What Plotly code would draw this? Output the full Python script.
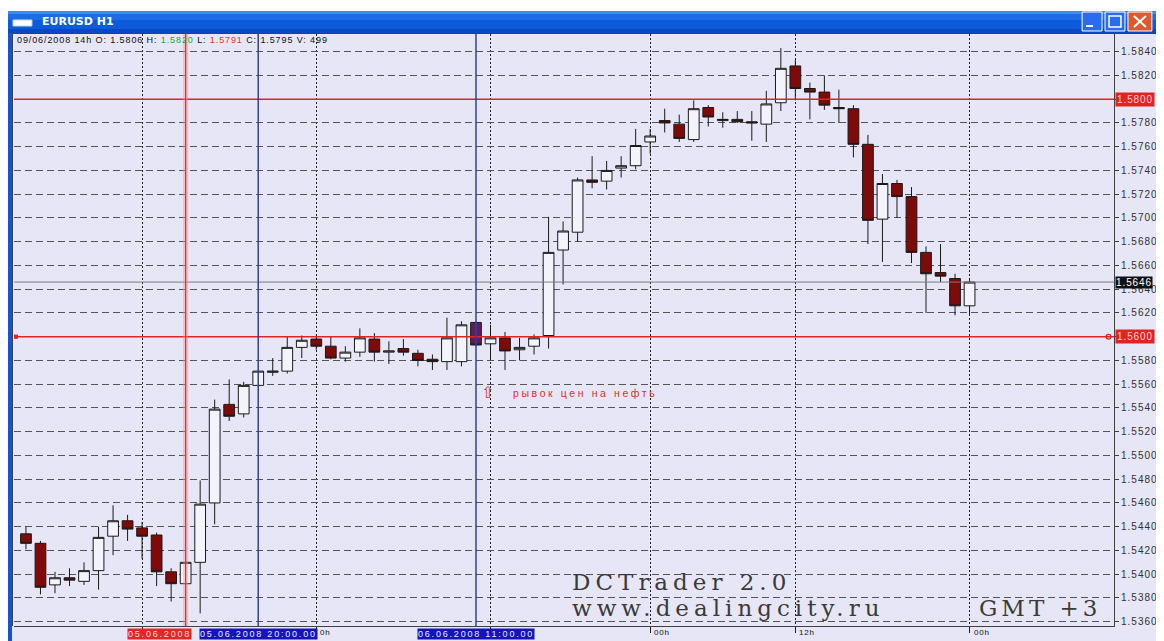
import plotly.graph_objects as go

# ---------------- data ----------------
opens = [1.5434, 1.5426, 1.5391, 1.5397, 1.5394, 1.5403, 1.5432, 1.5445, 1.5439, 1.5433,
         1.5402, 1.5392, 1.5410, 1.5460, 1.5543, 1.5535, 1.5559, 1.5570, 1.5571, 1.5591,
         1.5598, 1.5592, 1.5582, 1.5587, 1.5598, 1.5587, 1.5590, 1.5586, 1.5581, 1.5579,
         1.5579, 1.5612, 1.5594, 1.5599, 1.5589, 1.5592, 1.5601, 1.5673, 1.5688, 1.5732,
         1.5731, 1.5742, 1.5744, 1.5764, 1.5782, 1.5779, 1.5766, 1.5793, 1.5782, 1.5783,
         1.5781, 1.5779, 1.5797, 1.5828, 1.5809, 1.5806, 1.5793, 1.5792, 1.5762, 1.5699,
         1.5729, 1.5718, 1.5671, 1.5654, 1.5649, 1.5626]
highs = [1.5440, 1.5428, 1.5402, 1.5405, 1.5410, 1.5440, 1.5458, 1.5450, 1.5444, 1.5435,
         1.5405, 1.5411, 1.5479, 1.5547, 1.5564, 1.5562, 1.5572, 1.5582, 1.5600, 1.5601,
         1.5601, 1.5600, 1.5592, 1.5607, 1.5603, 1.5596, 1.5598, 1.5589, 1.5585, 1.5616,
         1.5613, 1.5613, 1.5610, 1.5604, 1.5599, 1.5602, 1.5701, 1.5697, 1.5734, 1.5752,
         1.5748, 1.5752, 1.5775, 1.5775, 1.5792, 1.5787, 1.5799, 1.5795, 1.5789, 1.5790,
         1.5790, 1.5807, 1.5843, 1.5833, 1.5814, 1.5820, 1.5808, 1.5795, 1.5770, 1.5737,
         1.5732, 1.5726, 1.5676, 1.5678, 1.5653, 1.5648]
lows = [1.5421, 1.5383, 1.5384, 1.5390, 1.5391, 1.5387, 1.5416, 1.5428, 1.5413, 1.5390,
        1.5377, 1.5391, 1.5367, 1.5442, 1.5529, 1.5532, 1.5558, 1.5567, 1.5569, 1.5582,
        1.5589, 1.5581, 1.5579, 1.5583, 1.5579, 1.5577, 1.5584, 1.5575, 1.5572, 1.5572,
        1.5575, 1.5592, 1.5582, 1.5572, 1.5580, 1.5585, 1.5590, 1.5644, 1.5680, 1.5725,
        1.5724, 1.5734, 1.5741, 1.5754, 1.5772, 1.5764, 1.5764, 1.5777, 1.5776, 1.5780,
        1.5765, 1.5764, 1.5790, 1.5799, 1.5783, 1.5791, 1.5780, 1.5751, 1.5678, 1.5663,
        1.5700, 1.5662, 1.5620, 1.5646, 1.5618, 1.5619]
closes = [1.5426, 1.5389, 1.5397, 1.5395, 1.5403, 1.5431, 1.5445, 1.5438, 1.5432, 1.5402,
          1.5392, 1.5410, 1.5459, 1.5539, 1.5533, 1.5559, 1.5571, 1.5571, 1.5591, 1.5597,
          1.5592, 1.5582, 1.5587, 1.5599, 1.5587, 1.5588, 1.5587, 1.5580, 1.5579, 1.5599,
          1.5610, 1.5593, 1.5599, 1.5588, 1.5591, 1.5599, 1.5671, 1.5689, 1.5732, 1.5730,
          1.5740, 1.5744, 1.5761, 1.5769, 1.5780, 1.5767, 1.5792, 1.5785, 1.5783, 1.5781,
          1.5780, 1.5796, 1.5826, 1.5809, 1.5806, 1.5795, 1.5792, 1.5762, 1.5698, 1.5729,
          1.5718, 1.5671, 1.5653, 1.5651, 1.5626, 1.5646]
bars = list(range(len(opens)))
selected_bar = 31

grid_bars = [8, 20, 32, 43, 53, 65]
grid_labels = ["", "0h", "", "00h", "12h", "00h"]

level_prices = [1.5800, 1.5600]
current_price = 1.5646
red_vline_bar = 11
blue_vline_bars = [16, 31]
red_vline_label = "05.06.2008"
blue_vline_labels = ["05.06.2008 20:00.00", "06.06.2008 11:00.00"]

header_date = "09/06/2008 14h"
header_ohlcv = [1.5806, 1.5820, 1.5791, 1.5795, 499]

note_bar = 33.4
note_price = 1.5553
note_text = "рывок цен на нефть"

y_ticks = [round(1.5360 + 0.0020 * k, 4) for k in range(25)]

# ---------------- geometry ----------------
# all pixel positions below are page pixels; the page body has an 8px margin
OFF = 8
PAGE_W, PAGE_H = 1164, 641
W, H = PAGE_W - OFF, PAGE_H - OFF
PL, PR, PT, PB = 14, 1118, 34, 626          # plot area, page pixels
X_RANGE = [-0.8236, 74.95]
Y_RANGE = [1.535638, 1.58549]
BG = "#E6E6F6"
SANS = "Liberation Sans, Arial"


def fx(px):
    return (px - PL) / (PR - PL)


def fy(py):
    return (PB - py) / (PB - PT)


def spaced(txt, sp):
    return f"<span style='letter-spacing:{sp}px'>{txt}</span>"


main_idx = [i for i in bars if i != selected_bar]

fig = go.Figure()
fig.add_trace(go.Candlestick(
    x=[bars[i] for i in main_idx],
    open=[opens[i] for i in main_idx],
    high=[highs[i] for i in main_idx],
    low=[lows[i] for i in main_idx],
    close=[closes[i] for i in main_idx],
    increasing=dict(fillcolor="#F3F3FB", line=dict(color="#1A1A1A", width=1)),
    decreasing=dict(fillcolor="#7E0A0A", line=dict(color="#1A1A1A", width=1)),
    whiskerwidth=0, showlegend=False, hoverinfo="skip",
))
fig.add_trace(go.Candlestick(
    x=[bars[selected_bar]], open=[opens[selected_bar]], high=[highs[selected_bar]],
    low=[lows[selected_bar]], close=[closes[selected_bar]],
    increasing=dict(fillcolor="#5E1E5E", line=dict(color="#1A1A1A", width=1)),
    decreasing=dict(fillcolor="#5E1E5E", line=dict(color="#1A1A1A", width=1)),
    whiskerwidth=0, showlegend=False, hoverinfo="skip",
))

shapes = []
# window chrome
shapes.append(dict(type="rect", xref="paper", yref="paper", x0=fx(0), x1=fx(PAGE_W), y0=fy(0), y1=fy(11),
                   fillcolor="white", line_width=0, layer="below"))
for (a, b, c) in [(11, 14, "#3B8BF4"), (14, 20, "#1C6DE6"), (20, 29, "#0B5BDB"), (29, 34, "#0849C2")]:
    shapes.append(dict(type="rect", xref="paper", yref="paper", x0=fx(0), x1=fx(PAGE_W), y0=fy(a), y1=fy(b),
                       fillcolor=c, line_width=0, layer="below"))
shapes.append(dict(type="rect", xref="paper", yref="paper", x0=fx(0), x1=fx(12), y0=fy(33), y1=fy(PAGE_H),
                   fillcolor="#1453D4", line_width=0, layer="below"))
# icon
shapes.append(dict(type="rect", xref="paper", yref="paper", x0=fx(13), x1=fx(32), y0=fy(20), y1=fy(26),
                   fillcolor="white", line=dict(color="#C8D8F0", width=1)))
# window buttons
for (a, b, c) in [(1086, 1106, "#2A6BF0"), (1109, 1129, "#2A6BF0"), (1132, 1156, "#E0582E")]:
    shapes.append(dict(type="rect", xref="paper", yref="paper", x0=fx(a), x1=fx(b), y0=fy(31), y1=fy(12),
                       fillcolor=c, line=dict(color="white", width=1)))
shapes.append(dict(type="line", xref="paper", yref="paper", x0=fx(1090), x1=fx(1097), y0=fy(26), y1=fy(26),
                   line=dict(color="white", width=2)))
shapes.append(dict(type="rect", xref="paper", yref="paper", x0=fx(1113), x1=fx(1125), y0=fy(27), y1=fy(16),
                   line=dict(color="white", width=1.5)))
shapes.append(dict(type="line", xref="paper", yref="paper", x0=fx(1138), x1=fx(1150), y0=fy(16), y1=fy(27),
                   line=dict(color="white", width=2)))
shapes.append(dict(type="line", xref="paper", yref="paper", x0=fx(1138), x1=fx(1150), y0=fy(27), y1=fy(16),
                   line=dict(color="white", width=2)))
# chart frame
shapes.append(dict(type="line", xref="paper", yref="paper", x0=fx(12), x1=fx(PAGE_W), y0=fy(33.5), y1=fy(33.5),
                   line=dict(color="#404040", width=1)))
shapes.append(dict(type="line", xref="paper", yref="paper", x0=fx(12.5), x1=fx(12.5), y0=fy(33.5), y1=fy(PB),
                   line=dict(color="#404040", width=1)))

# current price line
shapes.append(dict(type="line", xref="paper", yref="y", x0=0, x1=1, y0=current_price, y1=current_price,
                   line=dict(color="#7A7A7A", width=1)))
# red level lines
for p in level_prices:
    shapes.append(dict(type="line", xref="paper", yref="y", x0=0, x1=1, y0=p, y1=p,
                       line=dict(color="#E02424", width=1.5)))
shapes.append(dict(type="rect", xref="paper", yref="y", x0=fx(14), x1=fx(18),
                   y0=level_prices[1] - 0.00018, y1=level_prices[1] + 0.00018,
                   fillcolor="#E02424", line_width=0))
shapes.append(dict(type="circle", xref="paper", yref="y", x0=fx(1110), x1=fx(1115),
                   y0=level_prices[1] - 0.0002, y1=level_prices[1] + 0.0002,
                   line=dict(color="#E02424", width=1.2)))
# vertical lines
shapes.append(dict(type="line", xref="x", yref="paper", x0=red_vline_bar, x1=red_vline_bar, y0=0, y1=fy(34),
                   line=dict(color="rgba(255,140,140,0.45)", width=5)))
shapes.append(dict(type="line", xref="x", yref="paper", x0=red_vline_bar, x1=red_vline_bar, y0=0, y1=fy(34),
                   line=dict(color="#D83030", width=1.2)))
for b in blue_vline_bars:
    shapes.append(dict(type="line", xref="x", yref="paper", x0=b, x1=b, y0=0, y1=fy(34),
                       line=dict(color="#34409A", width=1.5)))

annotations = []
# title
annotations.append(dict(xref="paper", yref="paper", x=fx(40), y=fy(21.5), xanchor="left", yanchor="middle",
                        text="<b>EURUSD H1</b>", showarrow=False,
                        font=dict(family="DejaVu Sans", size=11, color="white")))
# header
o, h, l, c, v = header_ohlcv
hdr = (f"{header_date} O: {o:.4f} H: <span style='color:#2E9E2E'>{h:.4f}</span> "
       f"L: <span style='color:#E03030'>{l:.4f}</span> C: {c:.4f} V: {v}")
annotations.append(dict(xref="paper", yref="paper", x=fx(15), y=fy(40), xanchor="left", yanchor="middle",
                        text=spaced(hdr, 0.9), showarrow=False,
                        font=dict(family=SANS, size=9, color="#111111")))
# x tick labels
for b, lab in zip(grid_bars, grid_labels):
    if lab:
        annotations.append(dict(xref="x", yref="paper", x=b, y=fy(632), xanchor="left", yanchor="middle",
                                xshift=2, text=spaced(lab, 0.8), showarrow=False,
                                font=dict(family=SANS, size=8, color="#111111")))
# vertical line labels (red one partly hidden behind the blue one in the original)
annotations.append(dict(xref="paper", yref="paper", x=fx(193), y=fy(633.5), xanchor="right",
                        yanchor="middle", text=spaced(red_vline_label, 1.8), showarrow=False,
                        bgcolor="#E02828", borderpad=0,
                        font=dict(family=SANS, size=9, color="#FFD8D8")))
for b, lab in zip(blue_vline_bars, blue_vline_labels):
    annotations.append(dict(xref="x", yref="paper", x=b, y=fy(633.5), xanchor="center", yanchor="middle",
                            text=spaced(lab, 1.8), showarrow=False, bgcolor="#1414B8", borderpad=0,
                            font=dict(family=SANS, size=9, color="#E8E8FF")))
# price labels on the axis
for p in level_prices:
    annotations.append(dict(xref="paper", yref="y", x=fx(1119), y=p, xanchor="left", yanchor="middle",
                            text=spaced(f"{p:.4f}", 0.9), showarrow=False, bgcolor="#E02424", borderpad=1,
                            font=dict(family=SANS, size=10, color="#FFD0D0")))
annotations.append(dict(xref="paper", yref="y", x=fx(1119), y=current_price, xanchor="left", yanchor="middle",
                        text=spaced(f"{current_price:.4f}", 0.9), showarrow=False, bgcolor="#101010",
                        borderpad=0, font=dict(family=SANS, size=10, color="white")))
# note
annotations.append(dict(xref="x", yref="y", x=note_bar - 1.6, y=note_price, xanchor="center", yanchor="middle",
                        text="⇧", showarrow=False,
                        font=dict(family="DejaVu Sans", size=16, color="#D83030")))
annotations.append(dict(xref="x", yref="y", x=note_bar, y=note_price, xanchor="left", yanchor="middle",
                        text=spaced(note_text, 2.6), showarrow=False,
                        font=dict(family=SANS, size=10.5, color="#D83030")))
# watermark
wm_font = dict(family="DejaVu Serif", size=23, color="#3A3A3A")
annotations.append(dict(xref="paper", yref="paper", x=fx(572), y=fy(582), xanchor="left", yanchor="middle",
                        text=spaced("DCTrader 2.0", 5), showarrow=False, font=wm_font))
annotations.append(dict(xref="paper", yref="paper", x=fx(572), y=fy(608), xanchor="left", yanchor="middle",
                        text=spaced("www.dealingcity.ru", 5), showarrow=False, font=wm_font))
annotations.append(dict(xref="paper", yref="paper", x=fx(980), y=fy(608), xanchor="left", yanchor="middle",
                        text=spaced("GMT +3", 4), showarrow=False, font=wm_font))

# tick labels hidden under the level labels are left blank
tick_text = ["" if t in level_prices else spaced(f"{t:.4f}", 1) for t in y_ticks]

fig.update_layout(
    width=W, height=H,
    margin=dict(l=PL - OFF, r=PAGE_W - PR, t=PT - OFF, b=PAGE_H - PB, pad=0),
    paper_bgcolor=BG, plot_bgcolor=BG,
    showlegend=False,
    boxgap=0.26, boxgroupgap=0,
    shapes=shapes, annotations=annotations,
    xaxis=dict(range=X_RANGE, rangeslider=dict(visible=False), tickmode="array", tickvals=grid_bars,
               showticklabels=False, ticks="outside", ticklen=6, tickcolor="#202020",
               showgrid=True, gridcolor="#202020", gridwidth=1, griddash="2px,2px",
               showline=True, linecolor="#404040", linewidth=1, zeroline=False, fixedrange=True),
    yaxis=dict(range=Y_RANGE, side="right", tickmode="array", tickvals=y_ticks,
               ticktext=tick_text,
               ticks="outside", ticklen=4, tickcolor="#404040",
               tickfont=dict(family=SANS, size=10, color="#303030"),
               showgrid=True, gridcolor="#555555", gridwidth=1, griddash="7px,4px",
               showline=True, linecolor="#404040", linewidth=1, zeroline=False, fixedrange=True),
)

fig.write_html("out.html")
